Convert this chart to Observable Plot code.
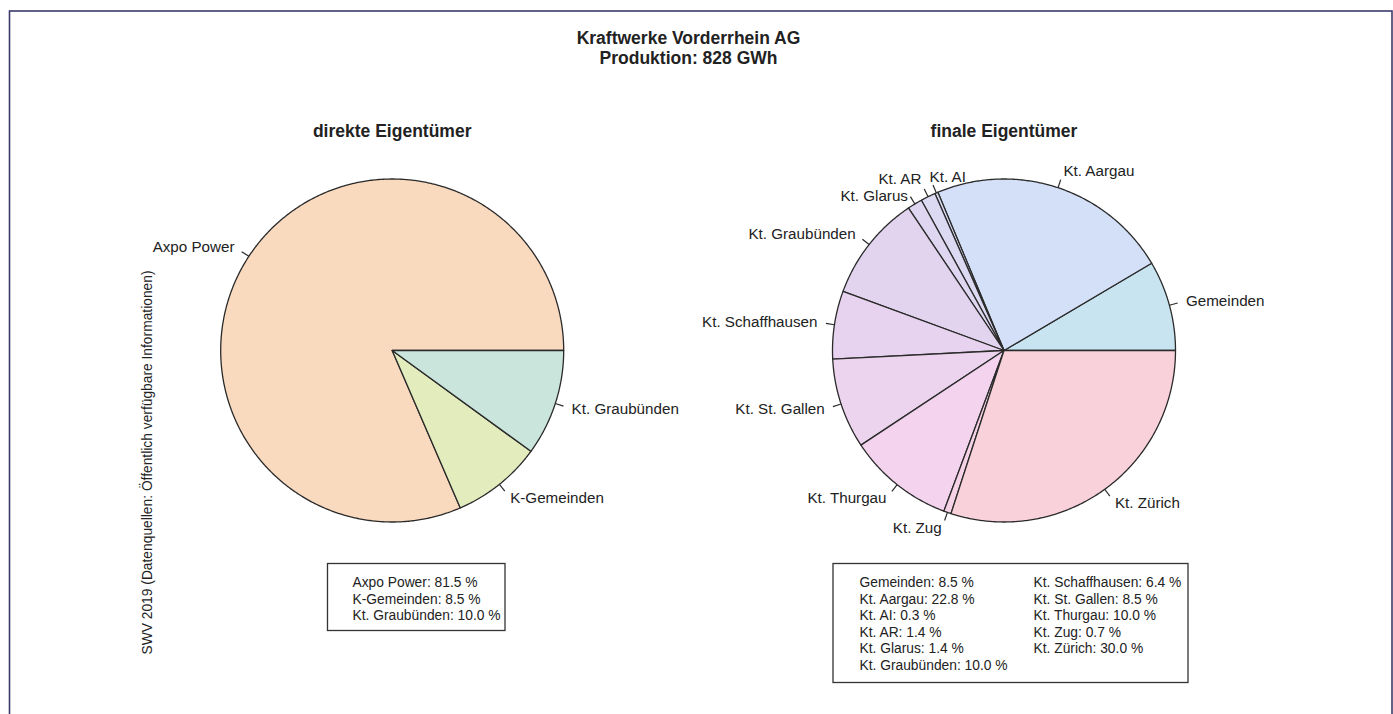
<!DOCTYPE html>
<html><head><meta charset="utf-8">
<script src="https://cdn.jsdelivr.net/npm/d3@7"></script>
<script src="https://cdn.jsdelivr.net/npm/@observablehq/plot@0.6"></script>
<style>html,body{margin:0;padding:0;background:#fff;} #chart{width:1393px;height:714px;overflow:hidden;}</style>
</head><body><div id="chart"></div>
<script>
// ---- data ----
const titleLines = ["Kraftwerke Vorderrhein AG", "Produktion: 828 GWh"];
const caption = "SWV 2019 (Datenquellen: Öffentlich verfügbare Informationen)";

const directTitle = "direkte Eigentümer";
const directOwners = ["Axpo Power", "K-Gemeinden", "Kt. Graubünden"];
const directShares = [81.5, 8.5, 10.0];
const directColors = ["#F9DABF", "#E2ECBD", "#CAE6DC"];

const finalTitle = "finale Eigentümer";
const finalOwners = ["Gemeinden", "Kt. Aargau", "Kt. AI", "Kt. AR", "Kt. Glarus", "Kt. Graubünden",
  "Kt. Schaffhausen", "Kt. St. Gallen", "Kt. Thurgau", "Kt. Zug", "Kt. Zürich"];
const finalShares = [8.5, 22.8, 0.3, 1.4, 1.4, 10.0, 6.4, 8.5, 10.0, 0.7, 30.0];
const finalColors = ["#C8E4F1", "#D3E0F7", "#D9DCF5", "#DCD9F3", "#DFD6F1", "#E2D4EF",
  "#E7D3EF", "#ECD3EE", "#F4D3EE", "#F6D2E6", "#F8D1DB"];
const startAnchoredLabels = ["Kt. AI"]; // label drawn to the right of its tick
const labelNudgePx = {"Kt. AR": {dx: 1, dy: -2}, "Kt. Glarus": {dx: 2, dy: 7}}; // layout offsets to avoid overlap

// ---- layout (pixels) ----
const W = 1393, H = 714, R = 171.5;
const C1 = {x: 391.7, y: 350}, C2 = {x: 1003.5, y: 350};
const ux = px => (px - C1.x) / R;
const uy = py => (C1.y - py) / R;
const FONT = "'Liberation Sans', Arial, Helvetica, sans-serif";

function pie(owners, shares, colors, cx, pid) {
  const total = d3.sum(shares);
  const pts = [], labels = [], ticks = [];
  let cum = 0;
  owners.forEach((name, i) => {
    const a0 = cum / total * 2 * Math.PI;
    cum += shares[i];
    const a1 = cum / total * 2 * Math.PI;
    const key = pid + ":" + name;
    const n = Math.max(2, Math.ceil((a1 - a0) / (Math.PI / 360)));
    pts.push({key, x: cx, y: 0, fill: colors[i]});
    for (let k = 0; k <= n; k++) {
      const a = a0 + (a1 - a0) * k / n;
      pts.push({key, x: cx + Math.cos(a), y: Math.sin(a), fill: colors[i]});
    }
    const m = (a0 + a1) / 2, c = Math.cos(m), s = Math.sin(m);
    const anchor = (c < 0 && !startAnchoredLabels.includes(name)) ? "end" : "start";
    const nudge = (pid === "f" && labelNudgePx[name]) || {dx: 0, dy: 0};
    labels.push({name, x: cx + 1.1 * c + nudge.dx / R, y: 1.1 * s - nudge.dy / R, anchor});
    ticks.push({x1: cx + c, y1: s, x2: cx + 1.05 * c, y2: 1.05 * s});
  });
  return {pts, labels, ticks};
}

const cx2 = ux(C2.x);
const P1 = pie(directOwners, directShares, directColors, 0, "d");
const P2 = pie(finalOwners, finalShares, finalColors, cx2, "f");
const slices = [...P1.pts, ...P2.pts];
const labels = [...P1.labels, ...P2.labels];
const ticks = [...P1.ticks, ...P2.ticks];

const fmt = (o, v) => `${o}: ${v.toFixed(1)} %`;
const rowH = 16.6;
const legendText = [];
directOwners.forEach((o, i) => legendText.push({t: fmt(o, directShares[i]), x: ux(352), y: uy(582 + i * rowH)}));
finalOwners.forEach((o, i) => {
  const col = i < 6 ? 0 : 1, row = i < 6 ? i : i - 6;
  legendText.push({t: fmt(o, finalShares[i]), x: ux(col ? 1033 : 859), y: uy(582 + row * rowH)});
});
const legendBoxes = [
  {x1: ux(327.5), x2: ux(505), y1: uy(563.5), y2: uy(630.5)},
  {x1: ux(833), x2: ux(1188), y1: uy(563.5), y2: uy(682.5)}
];

const chart = Plot.plot({
  width: W, height: H,
  margin: 0,
  x: {domain: [ux(0), ux(W)], axis: null},
  y: {domain: [uy(H), uy(0)], axis: null},
  style: {fontFamily: FONT, background: "#fff", color: "#222"},
  marks: [
    Plot.frame({stroke: "#3b3b6b", strokeWidth: 1.6, insetLeft: 9, insetTop: 10.5, insetRight: 1.5, insetBottom: -6}),
    Plot.line(slices, {x: "x", y: "y", z: "key", fill: "fill", stroke: "#2a2a2a", strokeWidth: 1.3, curve: "linear-closed", strokeLinejoin: "round"}),
    Plot.link(ticks, {x1: "x1", y1: "y1", x2: "x2", y2: "y2", stroke: "#2a2a2a", strokeWidth: 1.2}),
    Plot.text(labels.filter(d => d.anchor === "start"), {x: "x", y: "y", text: "name", textAnchor: "start", fontSize: 15.2, fill: "#222"}),
    Plot.text(labels.filter(d => d.anchor === "end"), {x: "x", y: "y", text: "name", textAnchor: "end", fontSize: 15.2, fill: "#222"}),
    Plot.text(titleLines, {x: ux(688), y: (d, i) => uy(37.5 + i * 20), text: d => d, fontSize: 17.5, fontWeight: "bold", fill: "#222"}),
    Plot.text([directTitle, finalTitle], {x: (d, i) => i ? cx2 : 0, y: uy(131), text: d => d, fontSize: 17.5, fontWeight: "bold", fill: "#222"}),
    Plot.text([caption], {x: ux(147), y: uy(462), text: d => d, rotate: -90, fontSize: 13.8, fill: "#222"}),
    Plot.rect(legendBoxes, {x1: "x1", x2: "x2", y1: "y1", y2: "y2", fill: "none", stroke: "#333", strokeWidth: 1.3}),
    Plot.text(legendText, {x: "x", y: "y", text: "t", textAnchor: "start", fontSize: 13.8, fill: "#222"})
  ]
});
document.getElementById("chart").appendChild(chart);
</script>
</body></html>
